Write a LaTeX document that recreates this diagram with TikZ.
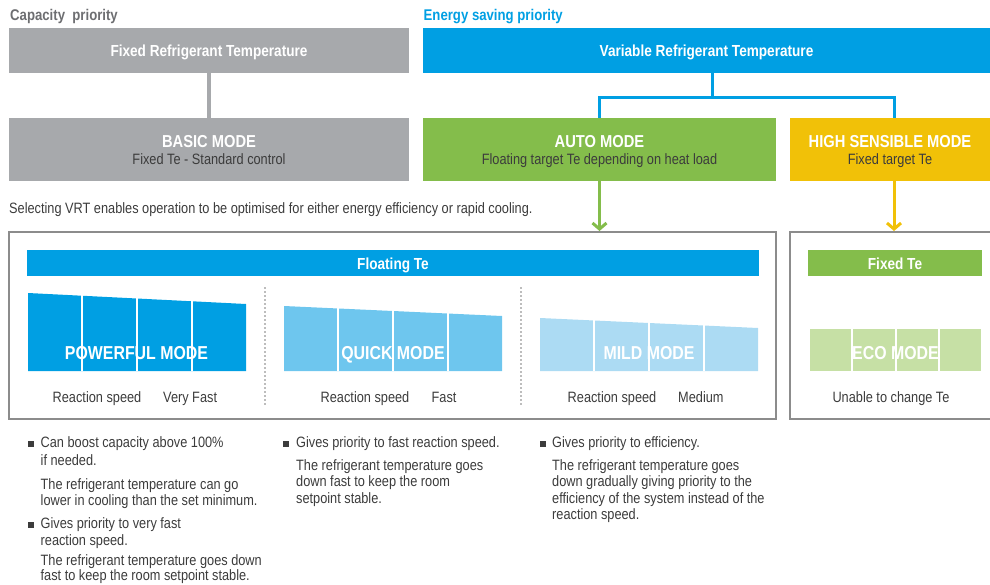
\documentclass[tikz,border=0pt]{standalone}
\usepackage{fontspec}
\setmainfont{Liberation Sans}[FakeStretch=0.85]
\usetikzlibrary{arrows.meta}
\definecolor{cgray}{HTML}{A7A9AC}
\definecolor{cblue}{HTML}{009FE3}
\definecolor{cgreen}{HTML}{84BD4B}
\definecolor{cyellow}{HTML}{F1C108}
\definecolor{cquick}{HTML}{6EC6EE}
\definecolor{cmild}{HTML}{ACDBF3}
\definecolor{ceco}{HTML}{C6E0A5}
\definecolor{ctext}{HTML}{3C3C3C}
\definecolor{ctitle}{HTML}{6D6E71}
\definecolor{cframe}{HTML}{8C8C8C}
\definecolor{csep}{HTML}{BDBDBD}
\newcommand{\fsz}[1]{\fontsize{#1}{#1}\selectfont}
\begin{document}
\begin{tikzpicture}[x=1pt,y=-1pt,
  filledbox/.style={anchor=north west, inner sep=0pt, outer sep=0pt, text=white,
    font=\bfseries\fsz{16}, text height=12.5pt, text depth=0pt},
  framebox/.style={anchor=north west, inner sep=0pt, outer sep=0pt, draw=cframe, line width=1.5pt},
  mtitle/.style={anchor=base, inner sep=0pt, text=white, font=\bfseries\fsz{17.3}},
  msub/.style={anchor=base, inner sep=0pt, text=ctext, font=\fsz{15}},
  modelbl/.style={anchor=base, inner sep=0pt, text=white, font=\bfseries\fsz{18.7}},
  bodytxt/.style={anchor=base west, inner sep=0pt, text=ctext, font=\fsz{15}},
  headtxt/.style={anchor=base west, inner sep=0pt, font=\bfseries\fsz{15.5}},
  divider/.style={white, line width=1.5pt},
  sepline/.style={csep, line width=1.2pt, dash pattern=on 2pt off 2pt},
  conn/.style={line width=3pt},
  arr/.style={line width=3pt, -{Straight Barb[length=6pt,width=14pt]}},
  bulletsq/.style={fill=ctext}
]
\useasboundingbox (0,0) rectangle (990,584);

% headings
\node[headtxt, text=ctitle] (capt) at (10,20.5) {Capacity\ \ priority};
\node[headtxt, text=cblue] (enst) at (423.5,20.5) {Energy saving priority};

% top boxes
\node[filledbox, fill=cgray, minimum width=400pt, minimum height=45pt] (fixed) at (9,28) {Fixed Refrigerant Temperature};
\node[filledbox, fill=cblue, minimum width=567pt, minimum height=45pt] (vrt) at (423,28) {Variable Refrigerant Temperature};

% mode boxes
\node[filledbox, fill=cgray, minimum width=400pt, minimum height=63pt] (basic) at (9,118) {};
\node[filledbox, fill=cgreen, minimum width=353pt, minimum height=63pt] (auto) at (423,118) {};
\node[filledbox, fill=cyellow, minimum width=200pt, minimum height=63pt] (hsm) at (790,118) {};
\node[mtitle] (basicT) at ([yshift=-29pt]basic.north) {BASIC MODE};
\node[msub] (basicS) at ([yshift=-46.5pt]basic.north) {Fixed Te - Standard control};
\node[mtitle] (autoT) at ([yshift=-29pt]auto.north) {AUTO MODE};
\node[msub] (autoS) at ([yshift=-46.5pt]auto.north) {Floating target Te depending on heat load};
\node[mtitle] (hsmT) at ([yshift=-29pt]hsm.north) {HIGH SENSIBLE MODE};
\node[msub] (hsmS) at ([yshift=-46.5pt]hsm.north) {Fixed target Te};

% connectors
\draw[cgray, line width=4pt] (fixed.south) -- (basic.north);
\coordinate (bj) at (712,97);
\draw[cblue, conn] (vrt.south -| bj) -- (bj);
\draw[cblue, conn, line join=miter] (auto.north) |- (bj) -| ([xshift=4pt]hsm.north);

\node[bodytxt] (selt) at (9,213) {Selecting VRT enables operation to be optimised for either energy efficiency or rapid cooling.};

% frames
\node[framebox, minimum width=767pt, minimum height=187pt] (flt) at (9,232) {};
\node[framebox, minimum width=210pt, minimum height=187pt] (fxf) at (790,232) {};

\draw[cgreen, arr] (auto.south) -- ([yshift=1pt]auto.south |- flt.north);
\draw[cyellow, arr] ([xshift=4pt]hsm.south) -- ([xshift=4pt,yshift=1pt]hsm.south |- fxf.north);

% bars
\node[filledbox, fill=cblue, minimum width=732pt, minimum height=26pt] (fbar) at (27,250) {Floating Te};
\node[filledbox, fill=cgreen, minimum width=174pt, minimum height=26pt] (xbar) at (808,250) {Fixed Te};

% separators
\draw[sepline] (265,287) -- (265,406);
\draw[sepline] (521,287) -- (521,406);

% mode shapes
\fill[cblue] (28,293) -- (246,304) -- (246,371) -- (28,371) -- cycle;
\foreach \x in {82,137,192} \draw[divider] (\x,285) -- (\x,371);
\fill[cquick] (284,306) -- (502,316) -- (502,371) -- (284,371) -- cycle;
\foreach \x in {338,393,448} \draw[divider] (\x,300) -- (\x,371);
\fill[cmild] (540,318) -- (758,328) -- (758,371) -- (540,371) -- cycle;
\foreach \x in {594,649,704} \draw[divider] (\x,312) -- (\x,371);
\fill[ceco] (810,329) rectangle (981,371);
\foreach \x in {852,896,939} \draw[divider] (\x,325) -- (\x,371);

\node[modelbl] (pwm) at (136.5,359) {POWERFUL MODE};
\node[modelbl] (qkm) at (393,359) {QUICK MODE};
\node[modelbl] (mdm) at (649,359) {MILD MODE};
\node[modelbl] (ecm) at (895.5,359) {ECO MODE};

\node[bodytxt] (r1) at (52.5,402.5) {Reaction speed};
\node[bodytxt] (v1) at (163,402.5) {Very Fast};
\node[bodytxt] (r2) at (320.5,402.5) {Reaction speed};
\node[bodytxt] (v2) at (431.5,402.5) {Fast};
\node[bodytxt] (r3) at (567.5,402.5) {Reaction speed};
\node[bodytxt] (v3) at (678,402.5) {Medium};
\node[bodytxt, anchor=base] (u4) at (891,402) {Unable to change Te};

% bullets column 1
\fill[bulletsq] (27.5,440.5) rectangle (33.5,446.5);
\node[bodytxt] (a1) at (40.5,447) {Can boost capacity above 100\%};
\node[bodytxt] (a2) at (40.5,465) {if needed.};
\node[bodytxt] (a3) at (40.5,489) {The refrigerant temperature can go};
\node[bodytxt] (a4) at (40.5,505) {lower in cooling than the set minimum.};
\fill[bulletsq] (27.5,521.5) rectangle (33.5,527.5);
\node[bodytxt] (a5) at (40.5,528) {Gives priority to very fast};
\node[bodytxt] (a6) at (40.5,545) {reaction speed.};
\node[bodytxt] (a7) at (40.5,565.5) {The refrigerant temperature goes down};
\node[bodytxt] (a8) at (40.5,580.5) {fast to keep the room setpoint stable.};

% bullets column 2
\fill[bulletsq] (282.5,440.5) rectangle (288.5,446.5);
\node[bodytxt] (b1) at (296,447) {Gives priority to fast reaction speed.};
\node[bodytxt] (b2) at (296,470) {The refrigerant temperature goes};
\node[bodytxt] (b3) at (296,486.5) {down fast to keep the room};
\node[bodytxt] (b4) at (296,503) {setpoint stable.};

% bullets column 3
\fill[bulletsq] (539.5,440.5) rectangle (545.5,446.5);
\node[bodytxt] (c1) at (552,447) {Gives priority to efficiency.};
\node[bodytxt] (c2) at (552,470) {The refrigerant temperature goes};
\node[bodytxt] (c3) at (552,486.5) {down gradually giving priority to the};
\node[bodytxt] (c4) at (552,503) {efficiency of the system instead of the};
\node[bodytxt] (c5) at (552,519.5) {reaction speed.};
\end{tikzpicture}
\end{document}
